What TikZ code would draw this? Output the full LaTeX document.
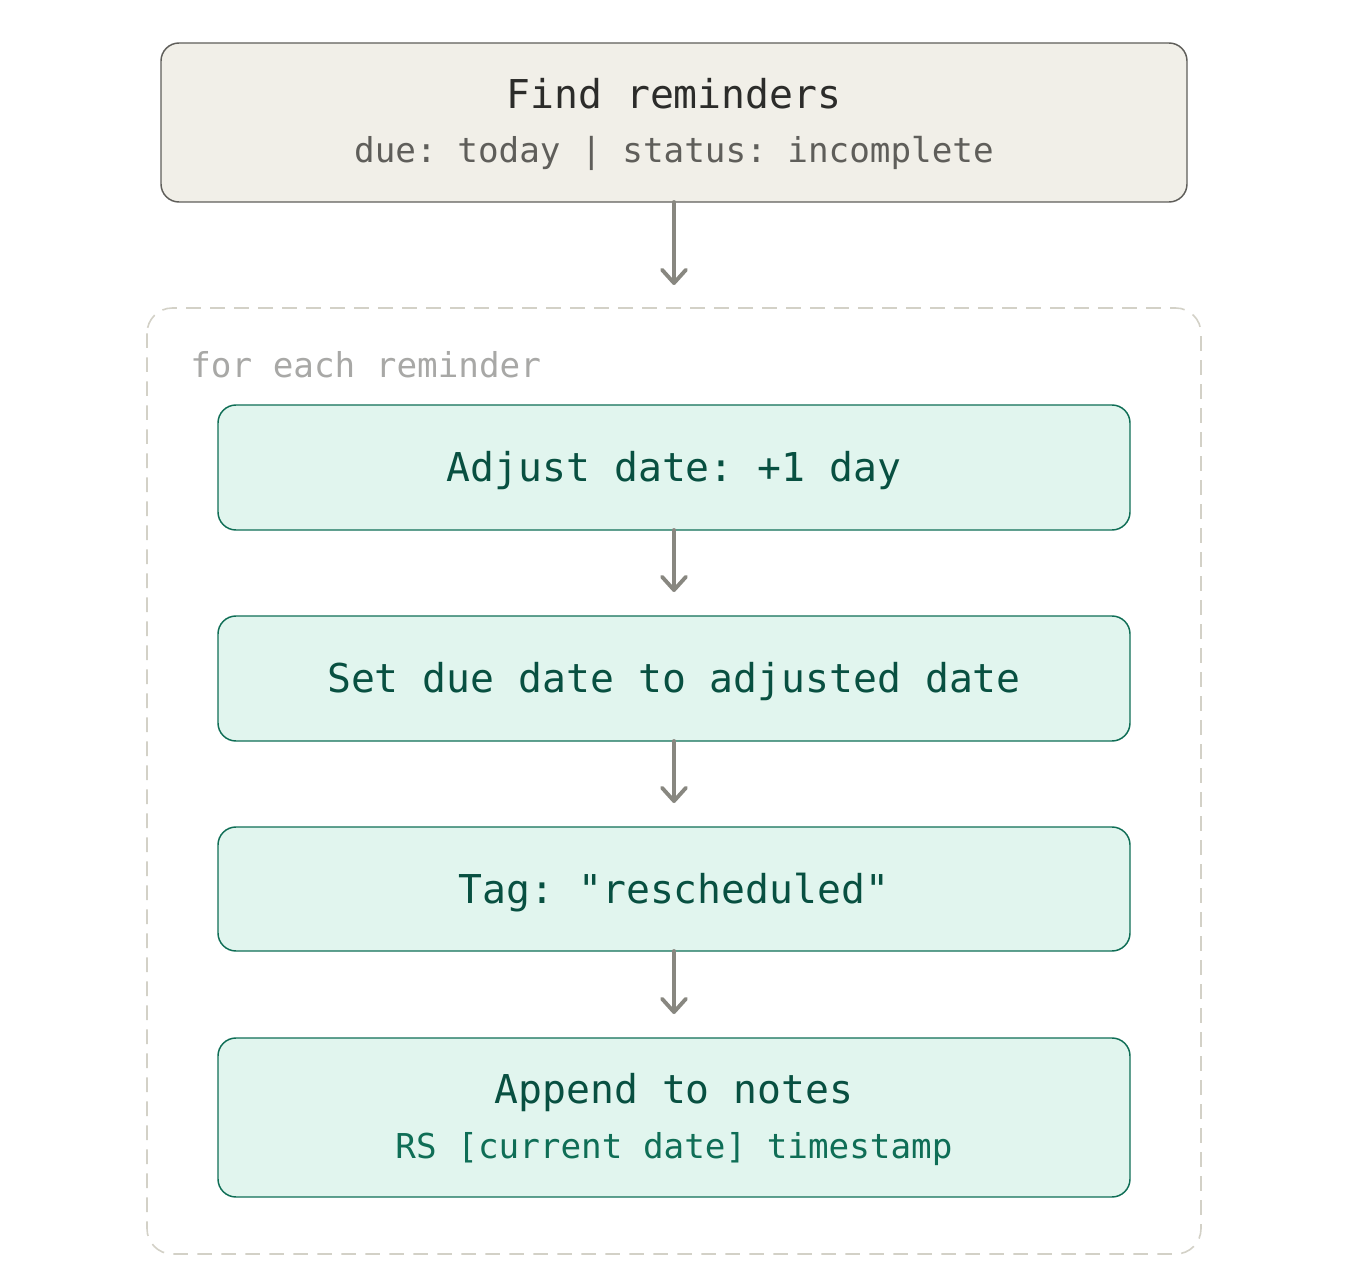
\documentclass[tikz,border=0pt]{standalone}
\usepackage{fontspec}
\setmonofont{DejaVu Sans Mono}
\usetikzlibrary{arrows.meta}
\definecolor{topfill}{HTML}{F1EFE8}
\definecolor{topdraw}{HTML}{5F5E5A}
\definecolor{toptext}{HTML}{2C2C2A}
\definecolor{topsub}{HTML}{5F5E5A}
\definecolor{grfill}{HTML}{E1F5EE}
\definecolor{grdraw}{HTML}{0F6E56}
\definecolor{grtext}{HTML}{085041}
\definecolor{grsub}{HTML}{0F6E56}
\definecolor{loopdraw}{HTML}{D3D1C7}
\definecolor{looptext}{HTML}{A8A8A6}
\definecolor{arrowc}{HTML}{888780}
\tikzset{
  x=0.75pt, y=-0.75pt,
  topbox/.style={draw=topdraw, fill=topfill, line width=1.1pt, rounded corners=13.5pt},
  grbox/.style={draw=grdraw, fill=grfill, line width=1.1pt, rounded corners=13.5pt},
  loopbox/.style={draw=loopdraw, line width=1.2pt, dash pattern=on 11pt off 7pt, rounded corners=19pt},
  ttl/.style={font=\ttfamily\fontsize{29.8}{34}\selectfont, anchor=base, inner sep=0pt},
  sub/.style={font=\ttfamily\fontsize{25.7}{30}\selectfont, anchor=base, inner sep=0pt},
  flow/.style={draw=arrowc, line width=2.9pt, line cap=round, -{Straight Barb[length=10pt,width=18pt,line width=2.9pt,round]}},
}
\begin{document}
\begin{tikzpicture}
\useasboundingbox (0,0) rectangle (1346,1269);
% loop frame
\draw[loopbox] (147,308) rectangle (1201,1254);
\node[sub, text=looptext, anchor=base west] (looplbl) at (190,378) {for each reminder};
% top box
\path[topbox] (161,43) rectangle (1187,202);
\coordinate (top) at (674,202);
\node[ttl, text=toptext] (findt) at (674,109) {Find reminders};
\node[sub, text=topsub] (finds) at (674,163) {due: today | status: incomplete};
% green boxes
\path[grbox] (218,405) rectangle (1130,530);
\coordinate (b1t) at (674,405); \coordinate (b1b) at (674,530);
\node[ttl, text=grtext] (adj) at (674,481) {Adjust date: +1 day};
\path[grbox] (218,616) rectangle (1130,741);
\coordinate (b2t) at (674,616); \coordinate (b2b) at (674,741);
\node[ttl, text=grtext] (setd) at (674,692) {Set due date to adjusted date};
\path[grbox] (218,827) rectangle (1130,951);
\coordinate (b3t) at (674,827); \coordinate (b3b) at (674,951);
\node[ttl, text=grtext] (tag) at (674,903) {Tag: "rescheduled"};
\path[grbox] (218,1038) rectangle (1130,1197);
\coordinate (b4t) at (674,1038);
\node[ttl, text=grtext] (app) at (674,1103) {Append to notes};
\node[sub, text=grsub] (apps) at (674,1158) {RS [current date] timestamp};
% arrows
\coordinate (a0) at (674,285);
\coordinate (a1) at (674,592);
\coordinate (a2) at (674,803);
\coordinate (a3) at (674,1014);
\draw[flow] (top) -- (a0);
\draw[flow] (b1b) -- (a1);
\draw[flow] (b2b) -- (a2);
\draw[flow] (b3b) -- (a3);
\end{tikzpicture}
\end{document}
